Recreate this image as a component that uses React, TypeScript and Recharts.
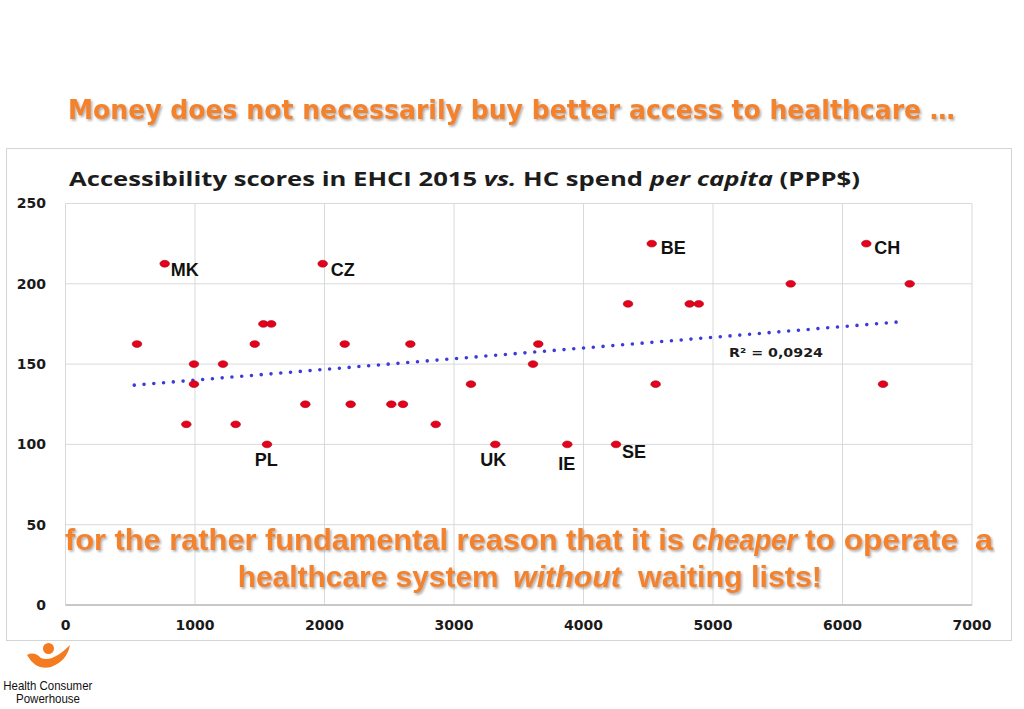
import React from 'react';
import { ScatterChart, Scatter, XAxis, YAxis, CartesianGrid, ReferenceLine } from 'recharts';

// HC spend per capita (PPP$)
const spend = [552, 766, 1986, 992, 992, 1216, 933, 1314, 1461, 1528, 1589, 1556, 1852, 2156, 2202, 2516, 2606, 2663, 2859, 3131, 3319, 3651, 3610, 3875, 4251, 4344, 4527, 4557, 4820, 4890, 5600, 6184, 6313, 6519];
// Accessibility scores EHCI 2015
const access = [162.5, 212.5, 212.5, 150, 137.5, 150, 112.5, 112.5, 162.5, 175, 175, 100, 125, 162.5, 125, 125, 125, 162.5, 112.5, 137.5, 100, 162.5, 150, 100, 100, 187.5, 225, 137.5, 187.5, 187.5, 200, 225, 137.5, 200];
const codes = ['', 'MK', 'CZ', '', '', '', '', '', '', '', '', 'PL', '', '', '', '', '', '', '', '', 'UK', '', '', 'IE', 'SE', '', 'BE', '', '', '', '', 'CH', '', ''];

// Trendline end points
const trendX = [531, 6457];
const trendY = [136.9, 176.4];
const r2Text = 'R² = 0,0924';

const xTicks = [0, 1000, 2000, 3000, 4000, 5000, 6000, 7000];
const yTicks = [0, 50, 100, 150, 200, 250];

const points = spend.map((s, i) => ({ spend: s, access: access[i], code: codes[i] }));

// Label placement (style config)
const labelStyle: Record<string, { dx: number; dy: number; anchor: 'start' | 'middle' }> = {
  MK: { dx: 6, dy: 12.7, anchor: 'start' },
  CZ: { dx: 8, dy: 12.7, anchor: 'start' },
  BE: { dx: 9, dy: 10, anchor: 'start' },
  CH: { dx: 8, dy: 10, anchor: 'start' },
  SE: { dx: 6, dy: 14, anchor: 'start' },
  PL: { dx: -0.7, dy: 21.7, anchor: 'middle' },
  UK: { dx: -2, dy: 21.7, anchor: 'middle' },
  IE: { dx: -0.6, dy: 25.7, anchor: 'middle' },
};

const ORANGE = '#f4822b';

const PointShape = (props: any) => {
  const { cx, cy, payload } = props;
  const code = payload && payload.code;
  const ls = code ? labelStyle[code] : null;
  return (
    <g>
      <ellipse cx={cx} cy={cy} rx={4.8} ry={3.4} fill="#e8001a" stroke="#9a0a20" strokeWidth={0.6} />
      {ls ? (
        <text
          x={cx + ls.dx}
          y={cy + ls.dy}
          textAnchor={ls.anchor}
          fontFamily="'Liberation Sans', Arial, sans-serif"
          fontWeight="bold"
          fontSize={18}
          fill="#111"
        >
          {code}
        </text>
      ) : null}
    </g>
  );
};

// Orange overlay message pieces: [text, x, width, italic, baseline]
const msgPieces: [string, number, number, boolean, number][] = [
  ['for the rather fundamental reason that it is', 65, 619, false, 550],
  ['cheaper', 692, 105, true, 550],
  ['to operate', 805, 153, false, 550],
  ['a', 975, 18, false, 550],
  ['healthcare system', 237.7, 261, false, 586.7],
  ['without', 513, 108, true, 586.7],
  ['waiting lists!', 638, 184, false, 586.7],
];

export default function App() {
  const tickFont = { fontFamily: "'DejaVu Sans', sans-serif", fontWeight: 'bold' as const, fontSize: 14, fill: '#1a1a1a' };
  return (
    <div style={{ position: 'absolute', left: 0, top: 0, width: 1024, height: 709, background: '#fff', overflow: 'hidden' }}>
      <svg width={1024} height={709} style={{ position: 'absolute', left: 0, top: 0 }}>
        <rect x={6.5} y={148.5} width={1005} height={492} fill="#fff" stroke="#d4d4d4" strokeWidth={1} />
      </svg>
      <div style={{ position: 'absolute', left: 0, top: 0 }}>
        <ScatterChart width={1024} height={709} margin={{ top: 203.5, right: 52, bottom: 74, left: 0 }}>
          <CartesianGrid stroke="#d9d9d9" strokeWidth={1} />
          <XAxis
            type="number"
            dataKey="spend"
            domain={[0, 7000]}
            ticks={xTicks}
            height={30}
            tickSize={0}
            tickMargin={15}
            tickLine={false}
            axisLine={{ stroke: '#bdbdbd', strokeWidth: 1.5 }}
            tick={tickFont}
            interval={0}
          />
          <YAxis
            type="number"
            dataKey="access"
            domain={[0, 250]}
            ticks={yTicks}
            width={65.5}
            tickSize={0}
            tickMargin={19.5}
            tickLine={false}
            axisLine={false}
            tick={tickFont}
            interval={0}
          />
          <ReferenceLine
            segment={[{ x: trendX[0], y: trendY[0] }, { x: trendX[1], y: trendY[1] }]}
            stroke="#3b3bdc"
            strokeWidth={3.6}
            strokeDasharray="0 9.8"
            strokeLinecap="round"
          />
          <Scatter data={points} shape={<PointShape />} isAnimationActive={false} />
        </ScatterChart>
      </div>
      <svg width={1024} height={709} style={{ position: 'absolute', left: 0, top: 0, pointerEvents: 'none' }}>
        <defs>
          <filter id="shadow" x="-5%" y="-20%" width="110%" height="150%">
            <feDropShadow dx={1.5} dy={1.8} stdDeviation={0.9} floodColor="#7a7a7a" floodOpacity={0.6} />
          </filter>
        </defs>
        <text
          x={68}
          y={119}
          textLength={887}
          lengthAdjust="spacingAndGlyphs"
          fontFamily="'DejaVu Sans', sans-serif"
          fontWeight="bold"
          fontSize={26}
          fill={ORANGE}
          filter="url(#shadow)"
        >
          Money does not necessarily buy better access to healthcare …
        </text>
        <text
          x={69}
          y={185.7}
          textLength={791}
          lengthAdjust="spacingAndGlyphs"
          fontFamily="'Open Sans', sans-serif"
          fontWeight="bold"
          fontSize={20}
          fill="#1c1c1c"
        >
          Accessibility scores in EHCI 2015 <tspan fontStyle="italic">vs.</tspan> HC spend <tspan fontStyle="italic">per capita</tspan> (PPP$)
        </text>
        <text
          x={729}
          y={357.3}
          textLength={94}
          lengthAdjust="spacingAndGlyphs"
          fontFamily="'DejaVu Sans', sans-serif"
          fontWeight="bold"
          fontSize={13}
          fill="#1c1c1c"
        >
          {r2Text}
        </text>
        {msgPieces.map(([t, x, w, it, y], i) => (
          <text
            key={i}
            x={x}
            y={y}
            textLength={w}
            lengthAdjust="spacingAndGlyphs"
            fontFamily="'Liberation Sans', Arial, sans-serif"
            fontWeight="bold"
            fontStyle={it ? 'italic' : 'normal'}
            fontSize={29}
            fill={ORANGE}
            filter="url(#shadow)"
          >
            {t}
          </text>
        ))}
        <circle cx={48.5} cy={648.5} r={5.5} fill="#f47b20" />
        <path d="M27,655 Q34,651 41,658 Q52,663 70,645 Q67,661 51,667 Q36,671 27,655 Z" fill="#f47b20" />
        <text x={3.3} y={690} textLength={89} lengthAdjust="spacingAndGlyphs" fontFamily="'Liberation Sans Narrow', 'Liberation Sans', sans-serif" fontSize={13.5} fill="#111">
          Health Consumer
        </text>
        <text x={16} y={703.3} textLength={64} lengthAdjust="spacingAndGlyphs" fontFamily="'Liberation Sans Narrow', 'Liberation Sans', sans-serif" fontSize={13.5} fill="#111">
          Powerhouse
        </text>
      </svg>
    </div>
  );
}
